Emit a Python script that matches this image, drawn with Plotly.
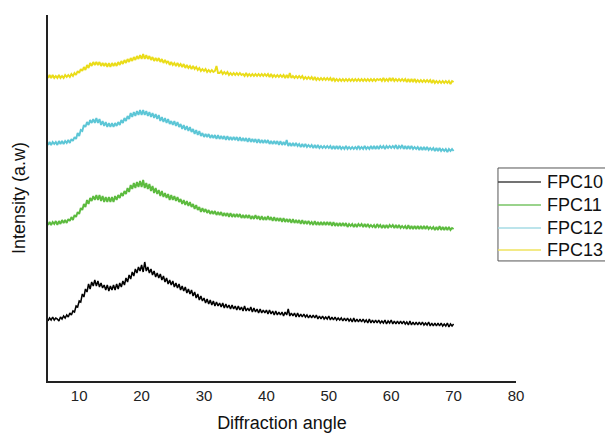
import plotly.graph_objects as go

# Diffraction angle (2θ, degrees), 0.25° scan step
angle = [5, 5.25, 5.5, 5.75, 6, 6.25, 6.5, 6.75, 7, 7.25, 7.5, 7.75, 8, 8.25, 8.5, 8.75, 9, 9.25, 9.5, 9.75,
         10, 10.25, 10.5, 10.75, 11, 11.25, 11.5, 11.75, 12, 12.25, 12.5, 12.75, 13, 13.25, 13.5, 13.75, 14, 14.25, 14.5, 14.75,
         15, 15.25, 15.5, 15.75, 16, 16.25, 16.5, 16.75, 17, 17.25, 17.5, 17.75, 18, 18.25, 18.5, 18.75, 19, 19.25, 19.5, 19.75,
         20, 20.25, 20.5, 20.75, 21, 21.25, 21.5, 21.75, 22, 22.25, 22.5, 22.75, 23, 23.25, 23.5, 23.75, 24, 24.25, 24.5, 24.75,
         25, 25.25, 25.5, 25.75, 26, 26.25, 26.5, 26.75, 27, 27.25, 27.5, 27.75, 28, 28.25, 28.5, 28.75, 29, 29.25, 29.5, 29.75,
         30, 30.25, 30.5, 30.75, 31, 31.25, 31.5, 31.75, 32, 32.25, 32.5, 32.75, 33, 33.25, 33.5, 33.75, 34, 34.25, 34.5, 34.75,
         35, 35.25, 35.5, 35.75, 36, 36.25, 36.5, 36.75, 37, 37.25, 37.5, 37.75, 38, 38.25, 38.5, 38.75, 39, 39.25, 39.5, 39.75,
         40, 40.25, 40.5, 40.75, 41, 41.25, 41.5, 41.75, 42, 42.25, 42.5, 42.75, 43, 43.25, 43.5, 43.75, 44, 44.25, 44.5, 44.75,
         45, 45.25, 45.5, 45.75, 46, 46.25, 46.5, 46.75, 47, 47.25, 47.5, 47.75, 48, 48.25, 48.5, 48.75, 49, 49.25, 49.5, 49.75,
         50, 50.25, 50.5, 50.75, 51, 51.25, 51.5, 51.75, 52, 52.25, 52.5, 52.75, 53, 53.25, 53.5, 53.75, 54, 54.25, 54.5, 54.75,
         55, 55.25, 55.5, 55.75, 56, 56.25, 56.5, 56.75, 57, 57.25, 57.5, 57.75, 58, 58.25, 58.5, 58.75, 59, 59.25, 59.5, 59.75,
         60, 60.25, 60.5, 60.75, 61, 61.25, 61.5, 61.75, 62, 62.25, 62.5, 62.75, 63, 63.25, 63.5, 63.75, 64, 64.25, 64.5, 64.75,
         65, 65.25, 65.5, 65.75, 66, 66.25, 66.5, 66.75, 67, 67.25, 67.5, 67.75, 68, 68.25, 68.5, 68.75, 69, 69.25, 69.5, 69.75,
         70]

# Intensities (arbitrary units; patterns stacked with vertical offsets as in the figure)
fpc10 = [60, 63, 61, 64, 61, 63, 62, 60, 64, 62, 65, 63, 66, 64, 68, 66, 70, 69, 75, 74,
         80, 79, 87, 84, 92, 89, 97, 92, 99, 95, 101, 95, 100, 94, 98, 93, 96, 91, 96, 90,
         95, 91, 96, 91, 97, 92, 98, 94, 100, 96, 103, 99, 106, 102, 109, 105, 112, 108, 114, 110,
         116, 109, 119, 110, 114, 108, 112, 106, 110, 104, 108, 103, 107, 101, 105, 99, 103, 97, 101, 96,
         100, 94, 98, 93, 97, 91, 95, 90, 94, 88, 92, 87, 91, 85, 89, 83, 87, 81, 85, 80,
         83, 78, 82, 77, 81, 76, 80, 75, 79, 75, 78, 74, 78, 73, 77, 73, 76, 72, 76, 72,
         75, 71, 75, 71, 74, 70, 75, 70, 73, 70, 74, 69, 73, 69, 72, 68, 72, 68, 71, 68,
         71, 67, 71, 67, 70, 66, 70, 66, 69, 66, 69, 65, 69, 66, 72, 65, 68, 65, 68, 64,
         68, 64, 67, 64, 67, 64, 66, 63, 66, 63, 66, 63, 66, 62, 65, 62, 65, 62, 64, 62,
         65, 61, 64, 61, 64, 61, 63, 61, 63, 60, 63, 60, 63, 60, 62, 59, 63, 59, 62, 59,
         62, 59, 62, 59, 61, 58, 62, 58, 61, 58, 61, 58, 61, 58, 60, 58, 61, 57, 60, 58,
         61, 57, 60, 57, 60, 57, 60, 57, 60, 57, 59, 56, 60, 56, 59, 56, 59, 56, 59, 56,
         59, 56, 58, 56, 59, 55, 58, 55, 58, 55, 58, 55, 58, 55, 57, 55, 58, 54, 57, 55,
         57]

fpc11 = [156, 159, 156, 159, 157, 160, 156, 160, 157, 161, 158, 161, 158, 162, 160, 164, 161, 166, 164, 169,
         167, 173, 171, 177, 174, 181, 177, 183, 180, 185, 181, 186, 181, 186, 180, 185, 179, 184, 179, 184,
         179, 184, 179, 185, 181, 186, 183, 188, 185, 190, 187, 193, 189, 196, 192, 198, 193, 199, 194, 200,
         194, 201, 193, 198, 192, 197, 190, 195, 188, 193, 187, 191, 185, 190, 184, 188, 183, 187, 181, 186,
         181, 185, 180, 184, 179, 182, 177, 181, 176, 180, 175, 179, 174, 177, 172, 176, 171, 174, 169, 173,
         169, 172, 168, 171, 167, 170, 167, 170, 166, 169, 166, 169, 165, 168, 165, 168, 164, 168, 164, 167,
         164, 167, 164, 167, 163, 166, 163, 166, 163, 166, 162, 165, 162, 166, 162, 165, 161, 165, 161, 164,
         161, 165, 161, 164, 160, 164, 160, 163, 160, 163, 159, 163, 159, 162, 159, 162, 158, 162, 158, 161,
         158, 161, 157, 161, 157, 160, 157, 160, 157, 159, 156, 160, 156, 159, 156, 159, 156, 159, 156, 159,
         156, 159, 155, 159, 155, 158, 155, 158, 155, 158, 155, 158, 154, 157, 155, 157, 154, 157, 154, 157,
         155, 157, 154, 157, 154, 157, 154, 156, 154, 156, 153, 157, 154, 156, 153, 156, 153, 156, 153, 156,
         154, 156, 153, 156, 153, 156, 153, 155, 153, 155, 152, 156, 152, 155, 152, 155, 152, 155, 152, 155,
         152, 155, 152, 155, 152, 154, 152, 154, 151, 154, 151, 155, 151, 154, 151, 154, 151, 154, 151, 153,
         152]

fpc12 = [236, 239, 236, 239, 237, 239, 236, 240, 237, 240, 237, 240, 238, 241, 238, 242, 240, 244, 242, 248,
         245, 251, 250, 256, 254, 259, 256, 261, 258, 262, 258, 263, 258, 262, 256, 260, 255, 259, 254, 258,
         254, 258, 254, 258, 255, 259, 256, 261, 258, 263, 260, 265, 262, 268, 264, 269, 265, 270, 266, 271,
         266, 271, 266, 270, 265, 269, 264, 268, 263, 267, 262, 266, 260, 264, 259, 263, 258, 262, 257, 260,
         256, 260, 255, 259, 254, 257, 252, 256, 251, 255, 250, 254, 249, 252, 247, 251, 246, 250, 245, 248,
         244, 247, 244, 247, 243, 246, 243, 246, 242, 246, 242, 245, 242, 245, 241, 245, 241, 244, 241, 244,
         241, 244, 240, 244, 240, 243, 240, 243, 239, 243, 239, 242, 239, 242, 238, 242, 238, 241, 238, 241,
         238, 241, 237, 240, 237, 240, 237, 240, 236, 240, 236, 239, 236, 241, 235, 238, 235, 238, 235, 238,
         235, 237, 234, 237, 234, 237, 234, 236, 234, 236, 233, 236, 233, 236, 233, 235, 233, 235, 233, 235,
         233, 235, 232, 235, 232, 235, 232, 235, 232, 234, 232, 235, 232, 234, 232, 234, 232, 234, 232, 235,
         232, 234, 232, 235, 232, 234, 232, 235, 232, 235, 232, 235, 232, 235, 233, 235, 232, 235, 233, 235,
         233, 235, 233, 236, 232, 235, 233, 236, 232, 235, 232, 235, 232, 235, 232, 234, 232, 234, 231, 234,
         231, 234, 231, 234, 231, 233, 231, 233, 230, 233, 230, 233, 230, 232, 230, 232, 229, 232, 230, 232,
         230]

fpc13 = [303, 306, 303, 306, 303, 305, 303, 306, 303, 305, 303, 306, 304, 306, 304, 307, 305, 308, 306, 310,
         308, 312, 310, 314, 311, 316, 313, 318, 315, 319, 316, 319, 316, 319, 315, 318, 315, 318, 314, 318,
         314, 318, 315, 318, 315, 319, 316, 320, 317, 321, 318, 322, 319, 323, 320, 324, 321, 325, 322, 326,
         322, 327, 322, 326, 322, 325, 321, 324, 320, 323, 320, 323, 319, 322, 318, 321, 318, 320, 316, 319,
         316, 318, 315, 318, 315, 317, 314, 317, 313, 316, 313, 315, 312, 315, 312, 314, 311, 313, 310, 312,
         310, 312, 309, 311, 309, 311, 309, 310, 315, 308, 308, 310, 307, 309, 307, 309, 306, 308, 306, 308,
         306, 308, 306, 308, 306, 307, 305, 308, 305, 307, 305, 307, 305, 307, 305, 307, 305, 307, 305, 307,
         305, 307, 304, 307, 304, 306, 304, 306, 304, 306, 304, 306, 303, 306, 303, 308, 303, 305, 303, 305,
         303, 305, 303, 305, 302, 304, 302, 304, 302, 304, 301, 304, 301, 303, 301, 303, 301, 303, 301, 303,
         301, 303, 300, 303, 300, 302, 300, 302, 300, 302, 300, 302, 300, 302, 300, 302, 300, 302, 300, 302,
         300, 302, 300, 302, 300, 302, 300, 302, 300, 302, 300, 302, 301, 302, 300, 303, 300, 302, 300, 303,
         300, 303, 300, 302, 300, 302, 300, 302, 300, 302, 299, 302, 299, 302, 299, 302, 299, 301, 299, 301,
         299, 301, 299, 301, 299, 301, 298, 301, 298, 300, 298, 300, 298, 300, 298, 300, 298, 300, 297, 300,
         299]

series_names = ["FPC10", "FPC11", "FPC12", "FPC13"]
series_values = [fpc10, fpc11, fpc12, fpc13]
series_colors = ["#000000", "#5cbb3e", "#5cc6d6", "#eadc18"]
series_widths = [1.5, 1.9, 1.9, 1.9]
legend_colors = ["#444444", "#78c566", "#a6dbe5", "#efe35e"]

x_ticks = [10, 20, 30, 40, 50, 60, 70, 80]

font_family = "Liberation Sans, Arial, sans-serif"

fig = go.Figure()
for name, vals, col, w in zip(series_names, series_values, series_colors, series_widths):
    fig.add_trace(go.Scatter(x=angle, y=vals, mode="lines", name=name,
                             line=dict(color=col, width=w)))

# Legend drawn as a boxed key to the right of the plot (paper coordinates)
leg_left, leg_right, leg_top, leg_bottom = 0.9615, 1.1966, 0.582, 0.328
leg_line_end, leg_text_x = 1.0534, 1.062
leg_rows = [0.5437, 0.4809, 0.418, 0.3579]
shapes = [dict(type="rect", xref="paper", yref="paper",
               x0=leg_left, x1=leg_right, y0=leg_bottom, y1=leg_top,
               line=dict(color="#555555", width=1), fillcolor="white", layer="above")]
annotations = []
for name, col, yr in zip(series_names, legend_colors, leg_rows):
    shapes.append(dict(type="line", xref="paper", yref="paper",
                       x0=leg_left, x1=leg_line_end, y0=yr, y1=yr,
                       line=dict(color=col, width=1.3)))
    annotations.append(dict(text=name, xref="paper", yref="paper",
                            x=leg_text_x, y=yr, xanchor="left", yanchor="middle",
                            showarrow=False,
                            font=dict(size=18, color="#111111", family=font_family)))

fig.update_layout(
    width=605, height=437,
    margin=dict(l=40, r=97, t=7, b=64),
    paper_bgcolor="white", plot_bgcolor="white",
    font=dict(family=font_family, color="#111111"),
    showlegend=False,
    shapes=shapes, annotations=annotations,
)
fig.update_xaxes(range=[5, 80], tickvals=x_ticks, ticks="",
                 showline=True, linecolor="#222222", linewidth=1.5,
                 showgrid=False, zeroline=False,
                 tickfont=dict(size=15, color="#222222"),
                 title=dict(text="Diffraction angle", font=dict(size=18, color="#111111"),
                            standoff=14))
fig.update_yaxes(range=[0, 366], showticklabels=False, ticks="",
                 showline=True, linecolor="#222222", linewidth=1.5,
                 showgrid=False, zeroline=False,
                 title=dict(text="Intensity (a.w)", font=dict(size=18, color="#111111"),
                            standoff=16))

fig.write_html("out.html")
